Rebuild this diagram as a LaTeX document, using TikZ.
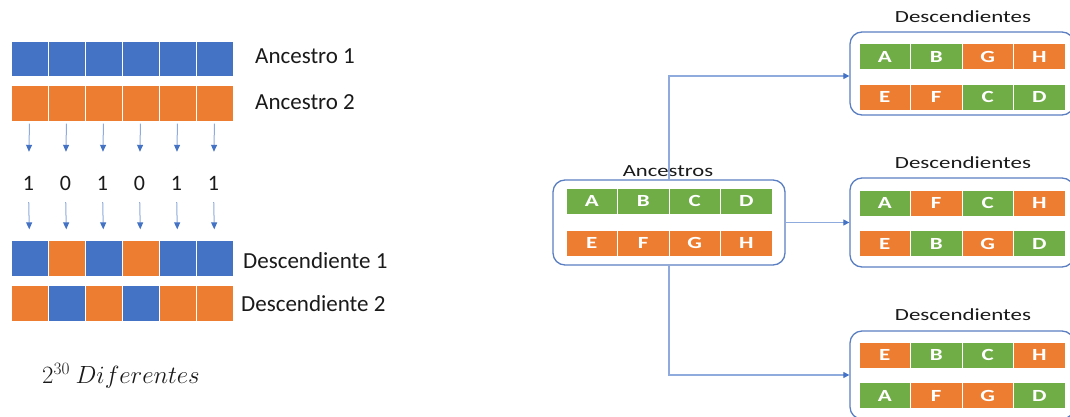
\documentclass[tikz,border=0pt]{standalone}
\usepackage{fontspec}
\setmainfont{Carlito}
\usetikzlibrary{arrows.meta}
\definecolor{cblue}{HTML}{4472C4}
\definecolor{corange}{HTML}{ED7D31}
\definecolor{cgreen}{HTML}{70AD47}
\definecolor{lineblue}{HTML}{8FAADC}
\definecolor{boxblue}{HTML}{5A7EC2}
\definecolor{txt}{HTML}{1A1A1A}
\begin{document}
\begin{tikzpicture}[x=1pt,y=-1pt,
  sq/.style={rectangle, draw=white, line width=0.8pt, minimum width=37pt, minimum height=35.5pt, inner sep=0pt},
  lbl/.style={anchor=west, inner sep=0pt, text=txt, font=\fontsize{23}{27}\selectfont},
  bit/.style={inner sep=0pt, text height=15pt, text depth=0pt, text=txt, font=\fontsize{22}{26}\selectfont},
  larr/.style={draw=lineblue, line width=1pt, -{Triangle[width=6pt,length=7pt,color=cblue,fill=cblue]}},
  cell/.style={rectangle, draw=white, line width=0.8pt, minimum width=51.5pt, minimum height=26pt, inner sep=0pt, text=white, font=\fontsize{17}{19}\selectfont\bfseries},
  grp/.style={rectangle, draw=boxblue, line width=1.3pt, rounded corners=12pt},
  ttl/.style={inner sep=0pt, text=txt, font=\fontsize{17}{20}\selectfont},
  conn/.style={draw=lineblue, line width=1.2pt, -{Triangle[width=6pt,length=6pt,color=cblue,fill=cblue]}}
]
\useasboundingbox (0,0) rectangle (1070,417);
\clip (0,0) rectangle (1070,417);

% ---------- Left part ----------
\foreach \c [count=\i] in {cblue,cblue,cblue,cblue,cblue,cblue}
  \node[sq, fill=\c] (a1-\i) at ({29.5+37*(\i-1)},59) {};
\foreach \c [count=\i] in {corange,corange,corange,corange,corange,corange}
  \node[sq, fill=\c] (a2-\i) at ({29.5+37*(\i-1)},103.5) {};
\foreach \c [count=\i] in {cblue,corange,cblue,corange,cblue,cblue}
  \node[sq, fill=\c] (d1-\i) at ({29.5+37*(\i-1)},258.5) {};
\foreach \c [count=\i] in {corange,cblue,corange,cblue,corange,corange}
  \node[sq, fill=\c] (d2-\i) at ({29.5+37*(\i-1)},303.5) {};

\node[lbl] (la1) at (255,56) {Ancestro 1};
\node[lbl] (la2) at (255,102) {Ancestro 2};
\node[lbl] (ld1) at (243,261) {Descendiente 1};
\node[lbl] (ld2) at (241,304) {Descendiente 2};

\foreach \b [count=\i] in {1,0,1,0,1,1}
  \node[bit] (b\i) at ({28.5+37*(\i-1)},183) {\b};

\foreach \i in {1,...,6}{
  \draw[larr, shorten <=2pt, shorten >=23.5pt] (a2-\i.south) -- (b\i.north);
  \draw[larr, shorten <=11.5pt, shorten >=11pt] (b\i.south) -- (d1-\i.north);
}

\node[inner sep=0pt, text=txt, font=\fontsize{25}{29}\selectfont] (dif) at (121,376) {$2^{30}\ Diferentes$};

% ---------- Right part ----------
\node[grp, minimum width=232pt, minimum height=85pt] (anc) at (669,222.5) {};
\node[ttl] (tanc) at (668,171) {\scalebox{1.33}[1]{Ancestros}};
\foreach \l/\c [count=\i] in {A/cgreen,B/cgreen,C/cgreen,D/cgreen}
  \node[cell, fill=\c] (ar1-\i) at ({591.75+51.5*(\i-1)},201) {\scalebox{1.35}[1]{\l}};
\foreach \l/\c [count=\i] in {E/corange,F/corange,G/corange,H/corange}
  \node[cell, fill=\c] (ar2-\i) at ({591.75+51.5*(\i-1)},243) {\scalebox{1.35}[1]{\l}};

% Descendientes 1
\node[grp, minimum width=224pt, minimum height=83pt] (ds1) at (962,73.5) {};
\node[ttl] (tds1) at (963,17) {\scalebox{1.35}[1]{Descendientes}};
\foreach \l/\c [count=\i] in {A/cgreen,B/cgreen,G/corange,H/corange}
  \node[cell, fill=\c] (p1-\i) at ({884.75+51.5*(\i-1)},56.5) {\scalebox{1.35}[1]{\l}};
\foreach \l/\c [count=\i] in {E/corange,F/corange,C/cgreen,D/cgreen}
  \node[cell, fill=\c] (q1-\i) at ({884.75+51.5*(\i-1)},97) {\scalebox{1.35}[1]{\l}};

% Descendientes 2
\node[grp, minimum width=224pt, minimum height=89pt] (ds2) at (962,222.5) {};
\node[ttl] (tds2) at (963,163) {\scalebox{1.35}[1]{Descendientes}};
\foreach \l/\c [count=\i] in {A/cgreen,F/corange,C/cgreen,H/corange}
  \node[cell, fill=\c] (p2-\i) at ({884.75+51.5*(\i-1)},203) {\scalebox{1.35}[1]{\l}};
\foreach \l/\c [count=\i] in {E/corange,B/cgreen,G/corange,D/cgreen}
  \node[cell, fill=\c] (q2-\i) at ({884.75+51.5*(\i-1)},243.5) {\scalebox{1.35}[1]{\l}};

% Descendientes 3
\node[grp, minimum width=224pt, minimum height=88pt] (ds3) at (962,375) {};
\node[ttl] (tds3) at (963,315) {\scalebox{1.35}[1]{Descendientes}};
\foreach \l/\c [count=\i] in {E/corange,B/cgreen,C/cgreen,H/corange}
  \node[cell, fill=\c] (p3-\i) at ({884.75+51.5*(\i-1)},355) {\scalebox{1.35}[1]{\l}};
\foreach \l/\c [count=\i] in {A/cgreen,F/corange,G/corange,D/cgreen}
  \node[cell, fill=\c] (q3-\i) at ({884.75+51.5*(\i-1)},395.5) {\scalebox{1.35}[1]{\l}};

% connectors
\coordinate (in1) at ([yshift=-2.5pt]ds1.west);
\draw[conn] (anc.north) |- (in1);
\draw[conn] (anc.east) -- (ds2.west);
\draw[conn] (anc.south) |- (ds3.west);
\end{tikzpicture}
\end{document}
